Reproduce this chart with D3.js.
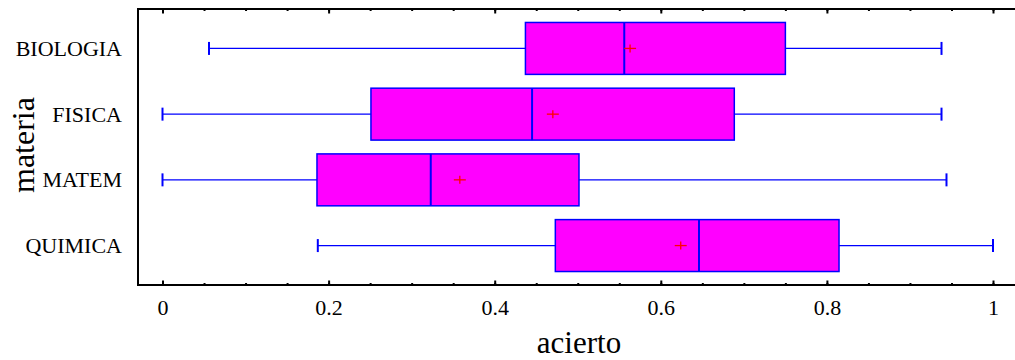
<!DOCTYPE html>
<html>
<head>
<meta charset="utf-8">
<script src="https://cdn.jsdelivr.net/npm/d3@7"></script>
<style>
  html, body { margin: 0; padding: 0; background: #fff; }
  svg { display: block; }
  text { font-family: "Liberation Serif", "Times New Roman", serif; fill: #000; }
</style>
</head>
<body>
<svg id="chart" width="1015" height="360"></svg>
<script>
// Subjects and their box-plot summaries of "acierto" (proportion correct)
const materias  = ["BIOLOGIA", "FISICA", "MATEM", "QUIMICA"];
const minimos   = [0.056, 0.0,   0.0,   0.187];
const cuartil1  = [0.437, 0.251, 0.186, 0.473];
const medianas  = [0.556, 0.445, 0.323, 0.646];
const medias    = [0.563, 0.470, 0.358, 0.624];
const cuartil3  = [0.750, 0.6885, 0.5015, 0.8146];
const maximos   = [0.938, 0.938, 0.944, 1.0];

const ticksMayores = [0, 0.2, 0.4, 0.6, 0.8, 1];
const ticksMenores = d3.range(0, 1.0001, 0.05);

const svg = d3.select("#chart");
const W = 1015;
const frame = { left: 138, top: 9, bottom: 285 };

const x = d3.scaleLinear().domain([0, 1]).range([162.5, 993]);
const y = d3.scalePoint().domain(materias).range([frame.top, frame.bottom]).padding(0.6);
const boxH = y.step() * 0.79;

const data = materias.map((m, i) => ({
  m, min: minimos[i], q1: cuartil1[i], med: medianas[i],
  mean: medias[i], q3: cuartil3[i], max: maximos[i]
}));

const blue = "#0000ff";

// Boxes and whiskers
const g = svg.append("g");
const item = g.selectAll("g.caja").data(data).join("g").attr("class", "caja");

// whisker lines
item.append("line")
  .attr("x1", d => x(d.min)).attr("x2", d => x(d.q1))
  .attr("y1", d => y(d.m)).attr("y2", d => y(d.m))
  .attr("stroke", blue).attr("stroke-width", 1.3);
item.append("line")
  .attr("x1", d => x(d.q3)).attr("x2", d => x(d.max))
  .attr("y1", d => y(d.m)).attr("y2", d => y(d.m))
  .attr("stroke", blue).attr("stroke-width", 1.3);
// whisker caps
["min", "max"].forEach(k => {
  item.append("line")
    .attr("x1", d => x(d[k])).attr("x2", d => x(d[k]))
    .attr("y1", d => y(d.m) - 6.5).attr("y2", d => y(d.m) + 6.5)
    .attr("stroke", blue).attr("stroke-width", 2);
});
// box
item.append("rect")
  .attr("x", d => x(d.q1)).attr("width", d => x(d.q3) - x(d.q1))
  .attr("y", d => y(d.m) - boxH / 2).attr("height", boxH)
  .attr("fill", "#ff00ff").attr("stroke", blue).attr("stroke-width", 1.5);
// median
item.append("line")
  .attr("x1", d => x(d.med)).attr("x2", d => x(d.med))
  .attr("y1", d => y(d.m) - boxH / 2).attr("y2", d => y(d.m) + boxH / 2)
  .attr("stroke", blue).attr("stroke-width", 2);
// mean marker (cross)
item.append("line")
  .attr("x1", d => x(d.mean) - 6).attr("x2", d => x(d.mean) + 6)
  .attr("y1", d => y(d.m)).attr("y2", d => y(d.m))
  .attr("stroke", "#ff0000").attr("stroke-width", 1.3);
item.append("line")
  .attr("x1", d => x(d.mean)).attr("x2", d => x(d.mean))
  .attr("y1", d => y(d.m) - 4).attr("y2", d => y(d.m) + 4)
  .attr("stroke", "#ff0000").attr("stroke-width", 1.3);

// Frame (open on the right, runs to the edge)
svg.append("path")
  .attr("d", `M${W},${frame.top}H${frame.left}V${frame.bottom}H${W}`)
  .attr("fill", "none").attr("stroke", "#000").attr("stroke-width", 2);

// Bottom axis: labels + inward ticks
const axB = svg.append("g").attr("transform", `translate(0,${frame.bottom})`)
  .call(d3.axisBottom(x).tickValues(ticksMayores).tickSize(-4.5).tickPadding(10)
    .tickFormat(d => d3.format("")(d)));
axB.select(".domain").remove();
axB.selectAll(".tick line").attr("stroke", "#000").attr("stroke-width", 2);
axB.selectAll(".tick text").attr("font-size", 22).attr("dy", null).attr("y", 30);

const axBm = svg.append("g").attr("transform", `translate(0,${frame.bottom})`)
  .call(d3.axisBottom(x).tickValues(ticksMenores).tickSize(-2).tickFormat(""));
axBm.select(".domain").remove();
axBm.selectAll(".tick line").attr("stroke", "#000").attr("stroke-width", 2);

// Top axis: inward ticks only
const axT = svg.append("g").attr("transform", `translate(0,${frame.top})`)
  .call(d3.axisTop(x).tickValues(ticksMayores).tickSize(-4.5).tickFormat(""));
axT.select(".domain").remove();
axT.selectAll(".tick line").attr("stroke", "#000").attr("stroke-width", 2);
const axTm = svg.append("g").attr("transform", `translate(0,${frame.top})`)
  .call(d3.axisTop(x).tickValues(ticksMenores).tickSize(-2).tickFormat(""));
axTm.select(".domain").remove();
axTm.selectAll(".tick line").attr("stroke", "#000").attr("stroke-width", 2);

// Category labels
const axL = svg.append("g").attr("transform", `translate(${frame.left},0)`)
  .call(d3.axisLeft(y).tickSize(0).tickPadding(16));
axL.select(".domain").remove();
axL.selectAll(".tick text").attr("font-size", 22).attr("dy", "0.32em");

// Axis titles
svg.append("text")
  .attr("x", 579).attr("y", 353)
  .attr("text-anchor", "middle").attr("font-size", 31)
  .text("acierto");
svg.append("text")
  .attr("transform", "translate(34,145) rotate(-90)")
  .attr("text-anchor", "middle").attr("font-size", 32)
  .text("materia");
</script>
</body>
</html>
